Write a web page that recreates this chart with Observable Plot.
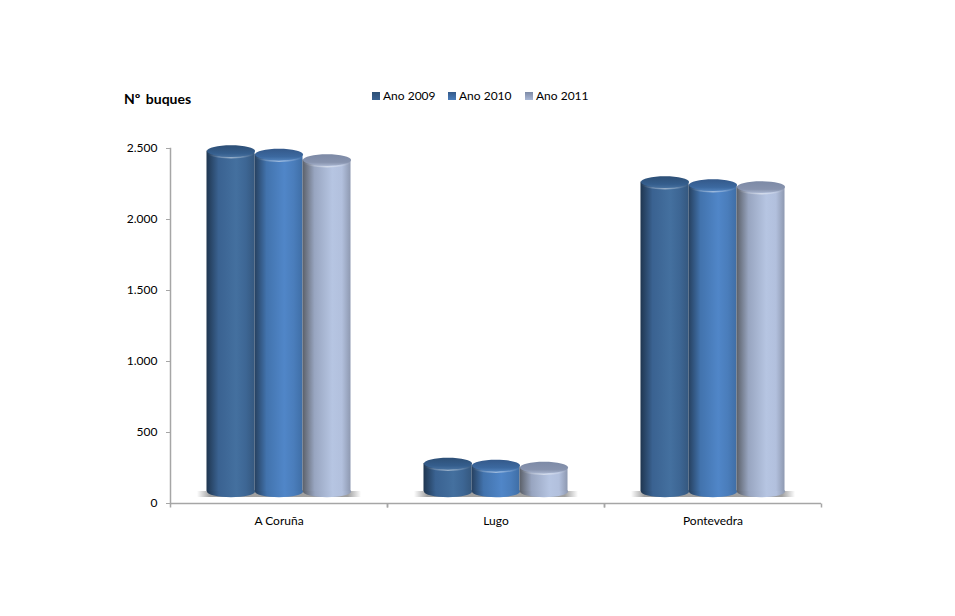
<!DOCTYPE html>
<html>
<head>
<meta charset="utf-8">
<script src="https://cdn.jsdelivr.net/npm/d3@7"></script>
<script src="https://cdn.jsdelivr.net/npm/@observablehq/plot@0.6"></script>
<style>
  html, body { margin: 0; background: #fff; }
  body { width: 955px; font-family: Lato, "Open Sans", sans-serif; color: #000; }
  #head { position: relative; height: 130px; }
  #title { position: absolute; left: 124px; top: 91px; font-size: 14px; font-weight: 700; word-spacing: 2px; line-height: 16px; }
  #legend span.item { position: absolute; top: 88px; font-size: 12px; line-height: 16px; }
  #legend i { position: absolute; left: -11px; top: 4px; width: 8px; height: 8px; }
  svg { display: block; }
</style>
</head>
<body>
<div id="head">
  <div id="title">Nº buques</div>
  <div id="legend"></div>
</div>
<div id="chart"></div>
<script>
const categories = ["A Coruña", "Lugo", "Pontevedra"];
const years = ["Ano 2009", "Ano 2010", "Ano 2011"];
const values2009 = [2482, 282, 2264];
const values2010 = [2458, 268, 2243];
const values2011 = [2419, 254, 2229];
const yTicks = [0, 500, 1000, 1500, 2000, 2500];

const seriesValues = [values2009, values2010, values2011];
const table = years.flatMap((year, s) =>
  categories.map((category, c) => ({ category, year, value: seriesValues[s][c] }))
);

// side, top colours per series
const palettes = [
  { id: "a", side: ["#1f3650", "#3a6291", "#44709f", "#3d6694", "#35587f"], top: ["#2d4f76", "#355e8d", "#46709f"], swatch: "#3a6291" },
  { id: "b", side: ["#26405f", "#4273ad", "#5086c8", "#4a7dbb", "#3f6ea6"], top: ["#34598a", "#3c69a0", "#4f7fb8"], swatch: "#4a7dbb" },
  { id: "c", side: ["#5b6069", "#98a5c0", "#b6c5e2", "#b2c0dd", "#8e99b1"], top: ["#7d8aa6", "#8793ae", "#a6b2cc"], swatch: "#aab8d6" }
];

const legendX = [383, 459, 536];
const legend = document.getElementById("legend");
years.forEach((y, i) => {
  const s = document.createElement("span");
  s.className = "item";
  s.style.left = legendX[i] + "px";
  s.textContent = y;
  const sw = document.createElement("i");
  sw.style.background = `linear-gradient(180deg, ${palettes[i].top[0]}, ${palettes[i].swatch})`;
  s.appendChild(sw);
  legend.appendChild(s);
});

const rx = 24, ry = 5.7, floorOffset = 12;
const k = 0.5523;
function ellipse(ctx, a, b) {
  ctx.moveTo(-a, 0);
  ctx.bezierCurveTo(-a, -b * k, -a * k, -b, 0, -b);
  ctx.bezierCurveTo(a * k, -b, a, -b * k, a, 0);
  ctx.bezierCurveTo(a, b * k, a * k, b, 0, b);
  ctx.bezierCurveTo(-a * k, b, -a, b * k, -a, 0);
  ctx.closePath();
}
const capSymbol = { draw(ctx) { ellipse(ctx, rx, ry); } };
const rimSymbol = { draw(ctx) {
  ctx.moveTo(-rx, 0);
  ctx.bezierCurveTo(-rx, ry * k, -rx * k, ry, 0, ry);
  ctx.bezierCurveTo(rx * k, ry, rx, ry * k, rx, 0);
} };
const shadowSymbol = { draw(ctx) {
  ctx.moveTo(-82, -3); ctx.lineTo(82, -3); ctx.lineTo(82, 3); ctx.lineTo(-82, 3); ctx.closePath();
} };
const tickSymbol = { draw(ctx) { ctx.moveTo(0, 0); ctx.lineTo(0, 4); } };

function defs() {
  const d = d3.create("svg:defs");
  const stops = (g, arr, offs) => arr.forEach((c, i) =>
    g.append("stop").attr("offset", offs[i]).attr("stop-color", c));
  palettes.forEach(p => {
    stops(d.append("linearGradient").attr("id", "side" + p.id), p.side, [0, 0.25, 0.62, 0.82, 1]);
    stops(d.append("linearGradient").attr("id", "top" + p.id).attr("x1", 0).attr("x2", 0).attr("y1", 0).attr("y2", 1), p.top, [0, 0.7, 1]);
  });
  const rim = d.append("linearGradient").attr("id", "rim");
  rim.append("stop").attr("offset", 0).attr("stop-color", "#fff").attr("stop-opacity", 0);
  rim.append("stop").attr("offset", 0.5).attr("stop-color", "#fff").attr("stop-opacity", 0.45);
  rim.append("stop").attr("offset", 1).attr("stop-color", "#fff").attr("stop-opacity", 0);
  const sh = d.append("linearGradient").attr("id", "shadow");
  [[0, 0], [0.08, 0.7], [0.92, 0.7], [1, 0]].forEach(([o, a]) =>
    sh.append("stop").attr("offset", o).attr("stop-color", "#777").attr("stop-opacity", a));
  return d.node();
}

const thousands = d3.formatLocale({ decimal: ",", thousands: ".", grouping: [3], currency: ["", ""] }).format(",");
const axisColor = "#a6a6a6";

const seriesMarks = years.flatMap((year, i) => {
  const rows = table.filter(d => d.year === year);
  const p = palettes[i];
  const common = { x: "year", fx: "category" };
  return [
    Plot.dot(rows, { ...common, y: () => 0, dy: -floorOffset, symbol: capSymbol, fill: `url(#side${p.id})` }),
    Plot.barY(rows, { ...common, y: "value", insetBottom: floorOffset, fill: `url(#side${p.id})` }),
    Plot.dot(rows, { ...common, y: "value", symbol: rimSymbol, dy: 1, fill: "none", stroke: "url(#rim)", strokeWidth: 1.5 }),
    Plot.dot(rows, { ...common, y: "value", symbol: capSymbol, fill: `url(#top${p.id})` })
  ];
});

const chart = Plot.plot({
  width: 955,
  height: 486,
  marginTop: 18,
  marginBottom: 113,
  marginLeft: 169,
  marginRight: 133,
  style: { fontFamily: "Lato, 'Open Sans', sans-serif", fontSize: "12px", color: "#000", background: "#fff", overflow: "visible" },
  fx: { domain: categories, padding: 0, label: null, axis: null },
  x: { domain: years, paddingInner: 0, paddingOuter: 0.76, axis: null, round: false },
  y: { domain: [0, 2500], label: null, axis: null },
  marks: [
    defs,
    Plot.dot(categories, { fx: d => d, frameAnchor: "bottom", dy: -9.5, symbol: shadowSymbol, fill: "url(#shadow)" }),
    Plot.frame({ anchor: "left", stroke: axisColor, strokeWidth: 1.5, facet: "super" }),
    Plot.axisY({ ticks: yTicks, tickFormat: thousands, tickSize: 4, tickPadding: 9, stroke: axisColor, color: "#000", fontSize: 12, label: null }),
    Plot.axisFx({ anchor: "bottom", tickSize: 0, tickPadding: 13, label: null, fontSize: 12 }),
    Plot.ruleY([0], { stroke: axisColor, strokeWidth: 1.5 }),
    Plot.dot(categories, { fx: d => d, frameAnchor: "bottom-left", symbol: tickSymbol, stroke: axisColor, fill: "none" }),
    Plot.dot(categories, { fx: d => d, frameAnchor: "bottom-right", symbol: tickSymbol, stroke: axisColor, fill: "none" }),
    ...seriesMarks
  ]
});
document.getElementById("chart").appendChild(chart);
</script>
</body>
</html>
